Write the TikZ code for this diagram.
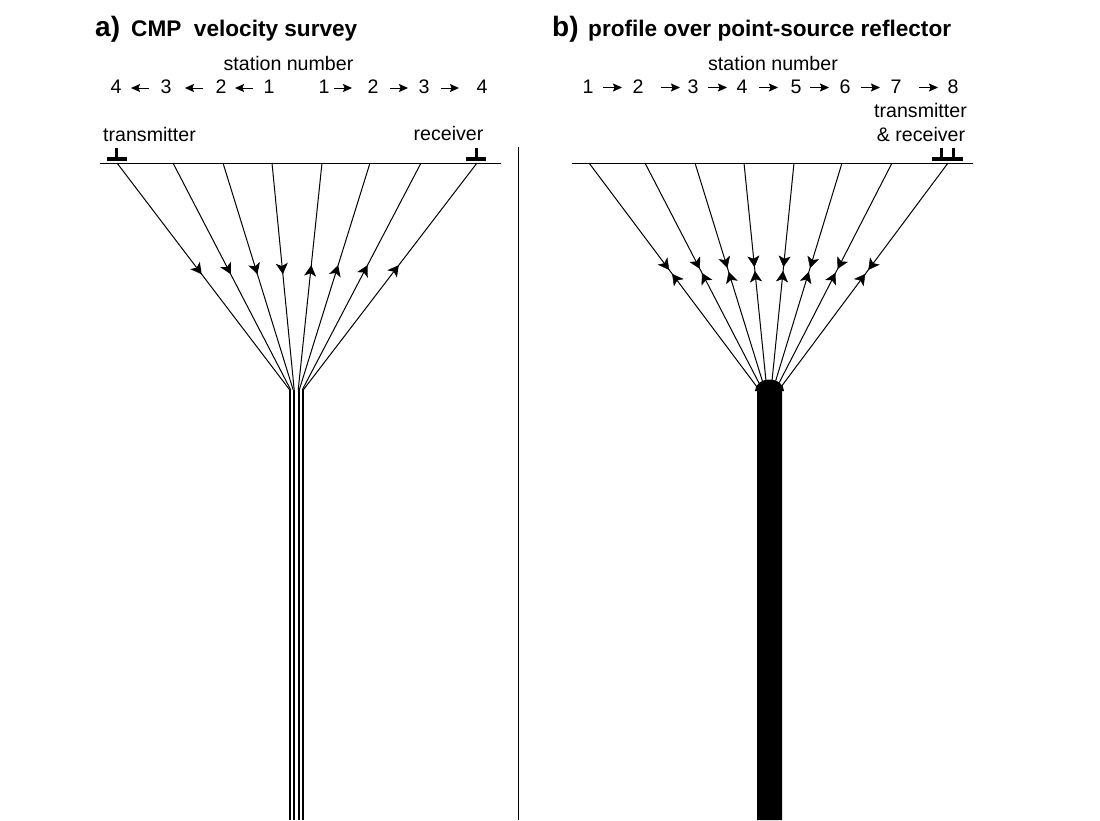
\documentclass[tikz,border=0pt]{standalone}
\usepackage{fontspec}
\setmainfont{Liberation Sans}
\usetikzlibrary{arrows.meta,decorations.markings}
\tikzset{
  lab/.style={inner sep=0pt,anchor=base,font=\fontsize{19.6}{22}\selectfont},
  num/.style={lab},
  bigt/.style={inner sep=0pt,anchor=base west,font=\fontsize{28}{30}\selectfont\bfseries},
  subt/.style={inner sep=0pt,anchor=base west,font=\fontsize{22.6}{26}\selectfont\bfseries},
  ray/.style={line width=1pt},
  head/.tip={Stealth[length=11pt,width=12pt,inset=2.8pt]},
  mid/.style={postaction={decorate},decoration={markings,mark=at position #1 with {\arrow{head}}}},
  small/.style={-{Stealth[length=9pt,width=8pt,inset=1.5pt]},line width=1pt},
  base/.style={line width=1pt},
  ant/.style={line width=3.4pt},
  stem/.style={line width=3pt},
}
\begin{document}
\begin{tikzpicture}[x=1pt,y=-1pt]
\useasboundingbox (0,0) rectangle (1100,820);
% titles
\node[bigt] (ta) at (95,36) {a)};
\node[subt] (tb) at (131,36) {CMP\ \ velocity survey};
\node[bigt] (tc) at (552,36) {b)};
\node[subt] (td) at (588,36) {profile over point-source reflector};
\node[lab] (sa) at (288.5,70) {station number};
\node[lab] (sb) at (773,70) {station number};
% a numbers
\foreach \n/\x/\t in {a4/116/4,a3/166/3,a2/221/2,a1/269/1,c1/324/1,c2/373/2,c3/424/3,c4/482/4}
  \node[num] (\n) at (\x,93.5) {\t};
\draw[small] (149,88) -- (131,88);
\draw[small] (203,88) -- (185,88);
\draw[small] (253,88) -- (235,88);
\draw[small] (334,88) -- (352,88);
\draw[small] (390,88) -- (408,88);
\draw[small] (441,88) -- (459,88);
% b numbers
\foreach \n/\x/\t in {b1/588/1,b2/638/2,b3/693/3,b4/742/4,b5/796/5,b6/845/6,b7/896/7,b8/953/8}
  \node[num] (\n) at (\x,93.5) {\t};
\draw[small] (603,87.5) -- (622,87.5);
\draw[small] (661,87.5) -- (680,87.5);
\draw[small] (708,87.5) -- (727,87.5);
\draw[small] (759,87.5) -- (778,87.5);
\draw[small] (810,87.5) -- (829,87.5);
\draw[small] (861,87.5) -- (880,87.5);
\draw[small] (919,87.5) -- (938,87.5);
% device labels
\node[lab] (tx) at (149.5,141) {transmitter};
\node[lab] (rx) at (448.5,140) {receiver};
\node[lab] (trx1) at (920.5,117.5) {transmitter};
\node[lab] (trx2) at (921,141) {\&\ receiver};
% surfaces
\coordinate (la) at (100,163); \coordinate (lb) at (501,163);
\coordinate (ra) at (572,163); \coordinate (rb) at (973,163);
\draw[base] (la) -- (lb);
\draw[base] (ra) -- (rb);
\coordinate (d1) at (518.5,147); \coordinate (d2) at (518.5,820);
\draw[base] (d1) -- (d2);
% antennas
\draw[ant] (107,159) -- (127,159); \draw[stem] (116.7,148) -- (116.7,159);
\draw[ant] (466,159) -- (486,159); \draw[stem] (476.3,148) -- (476.3,159);
\draw[ant] (932,159) -- (963,159);
\draw[stem] (941.7,147.5) -- (941.7,159);
\draw[stem] (953.3,147.5) -- (953.3,159);
% panel a rays
\foreach \i/\x/\bx in {1/117/289.8,2/173/290.8,3/223/293.2,4/272/294.2,5/322/298.2,6/370/299.2,7/421/302.2,8/477/303.2}{
  \coordinate (at\i) at (\x,163);
  \coordinate (ab\i) at (\bx,390);
  \coordinate (ae\i) at (\bx,820);
  \draw[ray] (ab\i) -- (ae\i);
}
\foreach \i in {1,2,3,4} \draw[ray,mid=0.49] (at\i) -- (ab\i);
\foreach \i in {5,6,7,8} \draw[ray,mid=0.55] (ab\i) -- (at\i);
% panel b shaft
\fill (757,820) -- (757,391) -- (755,391) arc[start angle=180,end angle=360,x radius=14.5,y radius=11.5] -- (782,391) -- (782,820) -- cycle;
% panel b rays
\foreach \i/\x/\bx/\by in {1/589/757/387,2/645/760/385,3/695/763/383,4/744/766/381,5/794/772/381,6/842/775/383,7/892/778/385,8/948/781/387}{
  \coordinate (bt\i) at (\x,163);
  \coordinate (bb\i) at (\bx,\by);
  \draw[ray] (bt\i) -- (bb\i);
  \path[mid=0.477] (bt\i) -- (bb\i);
  \path[mid=0.505] (bb\i) -- (bt\i);
}
\end{tikzpicture}
\end{document}
